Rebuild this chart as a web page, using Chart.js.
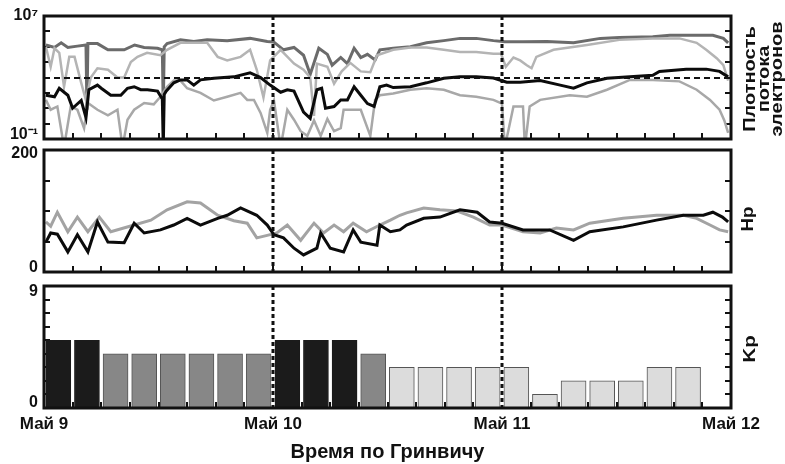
<!DOCTYPE html>
<html lang="ru">
<head>
<meta charset="utf-8">
<title>Плотность потока электронов, Hp и Kp</title>
<script src="https://cdn.jsdelivr.net/npm/chart.js@4/dist/chart.umd.min.js"></script>
<style>
  html, body { margin: 0; padding: 0; background: #fff; }
  #wrap { position: relative; width: 785px; height: 464px; overflow: hidden; font-family: 'Liberation Sans', Arial, sans-serif; }
  #wrap canvas { position: absolute; left: 0; }
  .side { position: absolute; font-weight: bold; color: #111; text-align: center; white-space: nowrap; }
</style>
</head>
<body>
<div id="wrap">
  <canvas id="fluxChart" width="785" height="145" style="top:0"></canvas>
  <canvas id="hpChart" width="785" height="130" style="top:145px"></canvas>
  <canvas id="kpChart" width="785" height="184" style="top:280px"></canvas>
  <div class="side" style="left:763px;top:79px;font-size:16px;line-height:13.5px;transform:translate(-50%,-50%) rotate(-90deg) scaleX(1.25)">Плотность<br>потока<br>электронов</div>
  <div class="side" style="left:748px;top:219px;font-size:17px;transform:translate(-50%,-50%) rotate(-90deg) scaleX(1.1)">Hp</div>
  <div class="side" style="left:750px;top:349px;font-size:17px;transform:translate(-50%,-50%) rotate(-90deg) scaleX(1.2)">Kp</div>
</div>
<script>
// time axis: hours since 00 UT May 9
const dayTicks = [0, 24, 48, 72];
const dayLabels = ['Май 9', 'Май 10', 'Май 11', 'Май 12'];
const dayMarks = [24, 48];

// electron flux (log axis)
const fluxTicks = [1e-1, 1, 1e1, 1e2, 1e3, 1e4, 1e5, 1e6, 1e7];
const fluxThreshold = 1e3;

const fluxHighAHours = [0.2, 1.1, 1.8, 2.5, 3.5, 4.4, 4.5, 4.6, 5.6, 6.7, 8.4, 9.5, 10.5, 11.9, 12.4, 12.5, 12.6, 12.9, 14.3, 15.7, 17.1, 19.2, 21.6, 23.4, 24.1, 25.1, 26.2, 27.2, 27.9, 28.8, 29.7, 30.2, 31.1, 31.8, 32.5, 33.2, 33.9, 34.7, 35.2, 36.6, 38.4, 40.1, 41.9, 43.6, 45.3, 47.1, 48.3, 50.2, 52.7, 55.5, 58.3, 60.3, 63.8, 65.6, 68.7, 70.1, 71.2, 71.7];
const fluxHighA = [1.3e5, 9e4, 1.8e5, 9e4, 1.1e5, 1.3e5, 8, 1.6e5, 1.6e5, 6.3e4, 6.3e4, 1.3e5, 9e4, 8e4, 6.3e4, 10, 1e5, 1.6e5, 2.8e5, 2.2e5, 2.8e5, 2.5e5, 3.5e5, 2.2e5, 2e5, 6.3e4, 9e4, 2.8e4, 1.6e3, 8e4, 3.2e4, 6.3e3, 2e4, 8e3, 8e4, 2e4, 3.2e4, 1.4e4, 6.3e4, 8e4, 1e5, 1.8e5, 2.5e5, 3.5e5, 3.5e5, 2.5e5, 2.1e5, 2.1e5, 2.2e5, 1.8e5, 3.5e5, 4e5, 4.5e5, 5.6e5, 5.6e5, 5.6e5, 3.5e5, 1.8e5];

const fluxHighBHours = [0.2, 0.7, 1.1, 1.6, 2.1, 2.65, 3.2, 3.9, 4.4, 4.9, 5.6, 6.7, 7.7, 8.4, 9.1, 9.8, 10.8, 12.2, 12.9, 14.3, 15.7, 17.1, 18.2, 19.2, 20.6, 21.6, 22.3, 23.0, 23.7, 24.8, 26.2, 27.2, 27.9, 28.3, 28.6, 29.7, 30.4, 31.2, 32.1, 33.2, 34.2, 34.9, 36.6, 38.4, 40.1, 41.9, 43.6, 45.3, 47.1, 47.9, 48.4, 49.2, 49.9, 50.6, 51.1, 51.6, 53.4, 56.9, 60.3, 63.8, 66.6, 68.4, 69.4, 70.5, 71.2, 71.7];
const fluxHighB = [1e5, 5e3, 8e4, 4e4, 250, 2.2e4, 2.2e4, 450, 32, 1e3, 4e3, 3.2e3, 1e3, 1e3, 1e4, 2.2e4, 4e4, 2.8e4, 6.3e4, 1.8e5, 1.8e5, 1.8e5, 2.2e4, 1.3e4, 2.2e4, 6.3e4, 3.2e3, 50, 1.3e4, 6.3e4, 8e3, 3.2e3, 1e3, 3.2, 8e3, 5e3, 400, 2.5e3, 9e3, 2.5e3, 2.2e3, 2.8e4, 6.3e4, 9e4, 9e4, 6.3e4, 4.5e4, 4.5e4, 3.5e4, 3.5e4, 5e3, 2e4, 1.3e4, 6.3e3, 4e3, 2.2e4, 6.3e4, 1.3e5, 2.8e5, 3.5e5, 3.5e5, 1.8e5, 6.3e4, 1.8e4, 6.3e3, 630];

const fluxMidHours = [0.2, 1.1, 1.6, 2.5, 3.0, 3.9, 4.4, 4.7, 5.6, 6.0, 7.0, 8.05, 8.75, 9.45, 10.14, 10.84, 11.9, 12.4, 12.5, 12.6, 12.8, 13.6, 14.3, 15.0, 15.7, 16.4, 17.8, 19.9, 21.6, 22.7, 23.4, 23.7, 24.8, 25.5, 26.2, 27.2, 27.9, 28.6, 29.1, 29.5, 30.4, 31.1, 31.8, 32.5, 33.2, 33.9, 34.6, 35.2, 35.9, 36.6, 38.4, 40.1, 41.9, 43.6, 45.3, 47.1, 48.5, 49.9, 52.0, 54.1, 55.5, 56.9, 59.0, 61.4, 63.8, 64.5, 67.3, 69.4, 70.8, 71.7];
const fluxMid = [70, 56, 200, 70, 10, 32, 2.5, 160, 320, 200, 70, 70, 200, 250, 160, 160, 130, 40, 0.03, 80, 130, 450, 700, 700, 320, 700, 900, 1.1e3, 2e3, 1e3, 450, 320, 110, 160, 130, 5.6, 2.2, 160, 200, 10, 13, 35, 35, 250, 70, 20, 13, 250, 320, 220, 250, 450, 900, 1.1e3, 1.1e3, 930, 500, 500, 630, 320, 200, 450, 900, 1.1e3, 1.4e3, 2.5e3, 3.5e3, 3.5e3, 2.5e3, 1.1e3];

const fluxLowHours = [0.2, 0.7, 1.4, 2.1, 2.8, 3.5, 4.2, 4.6, 5.6, 6.7, 7.7, 8.23, 8.75, 9.45, 10.5, 11.5, 12.2, 12.9, 13.6, 14.3, 15.0, 16.4, 17.8, 19.2, 20.6, 21.3, 22.0, 22.7, 23.4, 23.7, 24.1, 24.8, 25.5, 26.2, 26.9, 27.6, 28.3, 29.0, 29.7, 30.4, 31.1, 31.4, 33.2, 34.2, 34.7, 35.2, 36.6, 38.4, 40.1, 41.9, 43.6, 45.3, 47.1, 48.0, 48.3, 49.2, 50.2, 50.4, 50.9, 52.0, 55.1, 56.9, 59.0, 61.4, 63.8, 66.6, 68.4, 69.8, 70.8, 71.3, 71.7];
const fluxLow = [35, 8, 13, 0.03, 13, 8, 0.5, 22, 8, 3.5, 8, 0.03, 1.8, 8, 22, 18, 56, 250, 630, 630, 200, 100, 32, 56, 100, 35, 35, 5, 0.25, 8, 32, 0.03, 8, 1.8, 0.32, 0.16, 1.6, 0.16, 2, 0.32, 0.5, 8, 8, 0.16, 35, 70, 90, 160, 200, 160, 70, 56, 35, 20, 0.03, 13, 13, 0.03, 13, 35, 70, 56, 160, 700, 700, 560, 160, 35, 8, 1.6, 0.25];

// Hp index
const hpTicks = [0, 200];
const hpGrayHours = [0.2, 0.7, 1.4, 2.5, 3.5, 4.6, 5.8, 7.0, 9.45, 11.2, 12.9, 15.0, 16.4, 18.2, 19.9, 21.3, 22.3, 23.4, 24.4, 25.5, 26.9, 28.3, 29.3, 30.4, 31.4, 32.4, 33.8, 35.2, 36.3, 37.3, 38.0, 39.8, 41.5, 43.3, 45.0, 46.7, 48.0, 50.2, 52.0, 53.7, 55.5, 57.2, 60.7, 64.2, 67.0, 68.4, 69.8, 70.8, 71.7];
const hpGray = [82, 75, 98, 66, 90, 66, 90, 66, 77, 85, 102, 115, 113, 93, 84, 80, 56, 60, 64, 77, 52, 80, 64, 77, 66, 80, 66, 77, 85, 93, 97, 105, 102, 100, 90, 77, 77, 66, 64, 72, 69, 80, 88, 93, 93, 88, 77, 69, 66];
const hpBlackHours = [0.2, 0.7, 1.4, 2.5, 3.5, 4.6, 5.6, 6.7, 8.4, 9.45, 10.5, 12.2, 13.6, 15.0, 16.4, 18.2, 19.2, 20.6, 22.3, 23.4, 24.1, 25.1, 26.2, 27.2, 28.6, 29.0, 30.0, 31.4, 32.4, 33.2, 34.9, 35.2, 36.3, 37.3, 38.0, 39.8, 41.5, 43.6, 45.4, 46.7, 48.0, 50.2, 53.0, 55.5, 57.2, 60.7, 64.2, 67.0, 69.1, 70.1, 71.1, 71.7];
const hpBlack = [49, 64, 62, 33, 61, 33, 82, 49, 48, 80, 64, 69, 77, 88, 77, 88, 93, 105, 93, 77, 61, 56, 39, 28, 39, 64, 39, 33, 69, 49, 44, 77, 66, 69, 77, 88, 90, 102, 98, 82, 80, 69, 69, 52, 66, 74, 85, 93, 93, 98, 90, 82];

// Kp index, 3-hour intervals
const kpTicks = [0, 9];
const kpHours = [1.5, 4.5, 7.5, 10.5, 13.5, 16.5, 19.5, 22.5, 25.5, 28.5, 31.5, 34.5, 37.5, 40.5, 43.5, 46.5, 49.5, 52.5, 55.5, 58.5, 61.5, 64.5, 67.5, 70.5];
const kpValues = [5, 5, 4, 4, 4, 4, 4, 4, 5, 5, 5, 4, 3, 3, 3, 3, 3, 1, 2, 2, 2, 3, 3, 0];

(() => {
  const FONT = "'Liberation Sans', Arial, sans-serif";
  const INK = '#111';
  const LEFT_W = 44;
  const RIGHT_W = 54;

  const toPoints = (xs, ys) => xs.map((x, i) => ({ x, y: ys[i] }));

  // axis sizes are fixed so the three panels line up
  const fixSize = (size) => (s) => {
    if (s.isHorizontal()) s.height = size;
    else s.width = size;
    s.paddingTop = 0;
    s.paddingBottom = 0;
    s.paddingLeft = 0;
    s.paddingRight = 0;
  };

  // dashed markers + heavy frame, drawn over the data
  const framePlugin = {
    id: 'frame',
    afterDatasetsDraw(chart, args, opts) {
      const { ctx, chartArea: a, scales } = chart;
      ctx.save();
      (opts.hLines || []).forEach((v) => {
        const y = Math.round(scales.y.getPixelForValue(v));
        ctx.setLineDash([6, 4]);
        ctx.lineWidth = 2;
        ctx.strokeStyle = INK;
        ctx.beginPath();
        ctx.moveTo(a.left, y);
        ctx.lineTo(a.right, y);
        ctx.stroke();
      });
      (opts.vLines || []).forEach((v) => {
        const x = Math.round(scales.x.getPixelForValue(v));
        if (opts.underlay) {
          ctx.setLineDash([]);
          ctx.lineWidth = 3;
          ctx.strokeStyle = '#fff';
          ctx.beginPath();
          ctx.moveTo(x, a.top);
          ctx.lineTo(x, a.bottom);
          ctx.stroke();
        }
        ctx.setLineDash([4, 3]);
        ctx.lineWidth = 3;
        ctx.strokeStyle = INK;
        ctx.beginPath();
        ctx.moveTo(x, a.top);
        ctx.lineTo(x, a.bottom);
        ctx.stroke();
      });
      ctx.setLineDash([]);
      ctx.lineWidth = 3;
      ctx.strokeStyle = INK;
      ctx.strokeRect(a.left, a.top, a.right - a.left, a.bottom - a.top);
      ctx.restore();
    }
  };

  const innerGrid = () => ({
    drawOnChartArea: false,
    drawTicks: true,
    tickLength: -6,
    lineWidth: 2,
    color: INK,
    offset: false
  });

  const xAxis = (height, withLabels) => ({
    type: 'linear',
    min: 0,
    max: 72,
    offset: false,
    grid: innerGrid(),
    border: { display: false },
    ticks: withLabels
      ? {
          stepSize: 3,
          maxTicksLimit: 40,
          autoSkip: false,
          maxRotation: 0,
          padding: 12,
          color: INK,
          font: { family: FONT, size: 17, weight: 'bold' },
          callback: (v) => {
            const i = dayTicks.indexOf(v);
            return i >= 0 ? dayLabels[i] : '';
          }
        }
      : { display: false, stepSize: 3, maxTicksLimit: 40 },
    title: withLabels
      ? {
          display: true,
          text: 'Время по Гринвичу',
          color: INK,
          padding: 0,
          font: { family: FONT, size: 20, weight: 'bold', lineHeight: 1.2 }
        }
      : { display: false },
    afterFit: fixSize(height)
  });

  const yPair = (base, labelFor, lineHeight) => ({
    y: {
      ...base,
      position: 'left',
      grid: innerGrid(),
      border: { display: false },
      ticks: {
        ...(base.ticks || {}),
        autoSkip: false,
        padding: 12,
        color: INK,
        font: { family: FONT, size: 16, weight: 'bold', lineHeight },
        callback: labelFor
      },
      afterFit: fixSize(LEFT_W)
    },
    y2: {
      ...base,
      position: 'right',
      grid: innerGrid(),
      border: { display: false },
      ticks: { ...(base.ticks || {}), display: false },
      afterFit: fixSize(RIGHT_W)
    }
  });

  const baseOptions = (padTop, scales, frame) => ({
    responsive: false,
    devicePixelRatio: 1,
    animation: false,
    events: [],
    layout: { padding: { top: padTop, left: 0, right: 0, bottom: 0 } },
    plugins: { legend: { display: false }, tooltip: { enabled: false }, frame },
    scales
  });

  const line = (label, xs, ys, color, width) => ({
    label,
    data: toPoints(xs, ys),
    borderColor: color,
    borderWidth: width,
    pointRadius: 0,
    tension: 0,
    fill: false,
    clip: 0
  });

  // electron flux panel
  const fluxBase = {
    type: 'logarithmic',
    min: fluxTicks[0],
    max: fluxTicks[fluxTicks.length - 1],
    afterBuildTicks: (s) => { s.ticks = fluxTicks.map((value) => ({ value })); }
  };
  new Chart(document.getElementById('fluxChart'), {
    type: 'line',
    data: {
      datasets: [
        line('поток (3)', fluxMidHours, fluxMid, '#0b0b0b', 3),
        line('поток (4)', fluxLowHours, fluxLow, '#a8a8a8', 2.5),
        line('поток (2)', fluxHighBHours, fluxHighB, '#b4b4b4', 2.5),
        line('поток (1)', fluxHighAHours, fluxHighA, '#6b6b6b', 3)
      ]
    },
    options: baseOptions(16, {
      x: xAxis(6, false),
      ...yPair(fluxBase, (v) => {
        if (v === fluxTicks[fluxTicks.length - 1]) return '10⁷';
        if (v === fluxTicks[0]) return ['10⁻¹', ''];
        return '';
      }, 0.5)
    }, { vLines: dayMarks, hLines: [fluxThreshold] }),
    plugins: [framePlugin]
  });

  // Hp panel
  new Chart(document.getElementById('hpChart'), {
    type: 'line',
    data: {
      datasets: [
        line('Hp', hpBlackHours, hpBlack, '#0b0b0b', 3),
        line('Hp (2)', hpGrayHours, hpGray, '#a3a3a3', 3)
      ]
    },
    options: baseOptions(5, {
      x: xAxis(3, false),
      ...yPair({ type: 'linear', min: hpTicks[0], max: hpTicks[1], ticks: { stepSize: 50 } }, (v) => {
        if (v === hpTicks[1]) return ['', String(v)];
        if (v === hpTicks[0]) return [String(v), ''];
        return '';
      }, 0.5)
    }, { vLines: dayMarks }),
    plugins: [framePlugin]
  });

  // Kp panel
  const kpFill = (v) => (v >= 5 ? '#1b1b1b' : v === 4 ? '#878787' : '#dcdcdc');
  const kpEdge = (v) => (v >= 5 ? '#1b1b1b' : '#555');
  new Chart(document.getElementById('kpChart'), {
    type: 'bar',
    data: {
      datasets: [{
        label: 'Kp',
        data: toPoints(kpHours, kpValues),
        backgroundColor: kpValues.map(kpFill),
        borderColor: kpValues.map(kpEdge),
        borderWidth: 1,
        barThickness: 25
      }]
    },
    options: baseOptions(6, {
      x: xAxis(56, true),
      ...yPair({ type: 'linear', min: kpTicks[0], max: kpTicks[1], ticks: { stepSize: 1 } }, (v) => {
        if (v === kpTicks[1]) return ['', String(v)];
        if (v === kpTicks[0]) return [String(v), ''];
        return '';
      }, 0.7)
    }, { vLines: dayMarks, underlay: true }),
    plugins: [framePlugin]
  });
})();
</script>
</body>
</html>
